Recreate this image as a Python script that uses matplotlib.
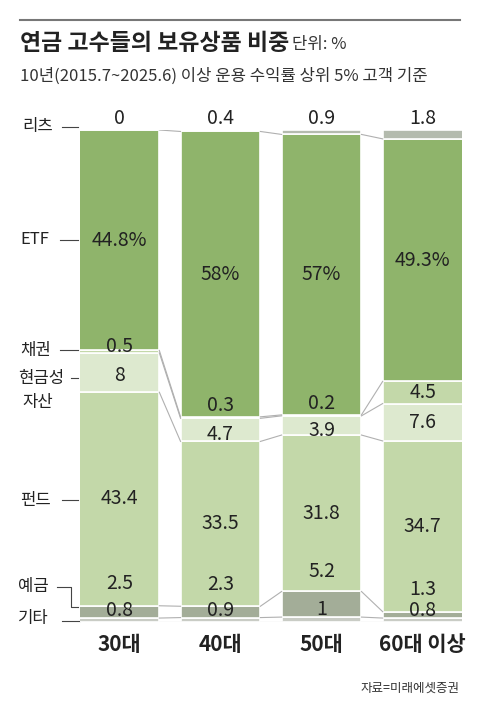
import matplotlib
matplotlib.use("Agg")
import matplotlib.pyplot as plt
import numpy as np

plt.rcParams['font.family'] = ['Noto Sans CJK KR', 'DejaVu Sans']

groups = ['30대', '40대', '50대', '60대 이상']
# stack order bottom -> top
series = ['기타', '예금', '펀드', '현금성 자산', '채권', 'ETF', '리츠']
gita  = [0.8, 0.9, 1.0, 0.8]
yegeum = [2.5, 2.3, 5.2, 1.3]
fund  = [43.4, 33.5, 31.8, 34.7]
cash  = [8, 4.7, 3.9, 7.6]
bond  = [0.5, 0.3, 0.2, 4.5]
etf   = [44.8, 58, 57, 49.3]
reits = [0, 0.4, 0.9, 1.8]
etf_labels = ['44.8%', '58%', '57%', '49.3%']

data = [gita, yegeum, fund, cash, bond, etf, reits]
colors = ['#c9ccc5', '#a3ad98', '#c3d8a9', '#dde9cf', '#c3d8a9', '#8fb46b', '#b4bbae']

fig = plt.figure(figsize=(4.8, 7.1), dpi=100)
ov = fig.add_axes([0, 0, 1, 1])
ov.set_xlim(0, 480); ov.set_ylim(710, 0); ov.axis('off')

ax = fig.add_axes([80/480, 88/710, 382/480, 492/710])
ax.set_xlim(-0.39, 3.39); ax.set_ylim(0, 100); ax.axis('off')
x = np.arange(4)
w = 0.79
bottoms = np.zeros(4)
cums = []
for vals, c in zip(data, colors):
    v = np.array(vals, float)
    ax.bar(x, v, w, bottom=bottoms, color=c, edgecolor='white', linewidth=1.2)
    bottoms = bottoms + v
    cums.append(bottoms.copy())
for cm in [np.zeros(4)] + cums[:-1]:
    for i in range(3):
        ax.plot([x[i] + w/2, x[i+1] - w/2], [cm[i], cm[i+1]], color='#b0b0b0', lw=0.8)

fs = 14
tc = '#222222'
def lab(i, y, s):
    ax.text(x[i], y, s, ha='center', va='center', fontsize=fs, color=tc)

for i in range(4):
    lab(i, 102.4, f'{reits[i]:g}')
    lab(i, (cums[4][i] + cums[5][i]) / 2, etf_labels[i])
    lab(i, (cums[1][i] + cums[2][i]) / 2, f'{fund[i]:g}')
    lab(i, cums[0][i] + 1.5, f'{gita[i]:g}')
    if i == 2:
        lab(i, cums[1][i] + 4.0, f'{yegeum[i]:g}')
    else:
        lab(i, cums[1][i] + 4.5, f'{yegeum[i]:g}')
    if i == 3:
        lab(i, (cums[3][i] + cums[4][i]) / 2, f'{bond[i]:g}')
        lab(i, (cums[2][i] + cums[3][i]) / 2, f'{cash[i]:g}')
    elif i == 0:
        lab(i, cums[4][i] + 0.8, f'{bond[i]:g}')
        lab(i, (cums[2][i] + cums[3][i]) / 2 - 0.5, f'{cash[i]:g}')
    else:
        lab(i, cums[4][i] + 2.3, f'{bond[i]:g}')
        lab(i, (cums[2][i] + cums[3][i]) / 2 - 1.0, f'{cash[i]:g}')
    ax.text(x[i], -4.6, groups[i], ha='center', va='center', fontsize=15,
            fontweight='bold', color='#222')

ov.plot([20, 460], [20, 20], color='#777', lw=1.5)
ov.text(20, 43, '연금 고수들의 보유상품 비중', fontsize=16.5, fontweight='bold', va='center', color='#222')
ov.text(292, 45, '단위: %', fontsize=12, va='center', color='#333')
ov.text(20, 76, '10년(2015.7~2025.6) 이상 운용 수익률 상위 5% 고객 기준', fontsize=12, va='center', color='#333')
ov.text(460, 688, '자료=미래에셋증권', fontsize=9, ha='right', va='center', color='#333')

lc = '#444'
lf = 12
ov.text(22, 127, '리츠', fontsize=lf, va='center', color='#222'); ov.plot([62, 78], [127, 127], color=lc, lw=0.8)
ov.text(20, 240, 'ETF', fontsize=lf, va='center', color='#222'); ov.plot([60, 78], [240, 240], color=lc, lw=0.8)
ov.text(20, 350, '채권', fontsize=lf, va='center', color='#222'); ov.plot([60, 78], [350, 350], color=lc, lw=0.8)
ov.text(18, 378, '현금성', fontsize=lf, va='center', color='#222'); ov.plot([71, 78], [378, 378], color=lc, lw=0.8)
ov.text(22, 403, '자산', fontsize=lf, va='center', color='#222')
ov.text(20, 500, '펀드', fontsize=lf, va='center', color='#222'); ov.plot([62, 78], [500, 500], color=lc, lw=0.8)
ov.text(18, 586, '예금', fontsize=lf, va='center', color='#222')
ov.plot([57, 71, 71, 78], [587, 587, 607, 607], color=lc, lw=0.8)
ov.text(18, 618, '기타', fontsize=lf, va='center', color='#222'); ov.plot([62, 80], [621, 621], color=lc, lw=0.8)

fig.savefig('out.png', dpi=100)
